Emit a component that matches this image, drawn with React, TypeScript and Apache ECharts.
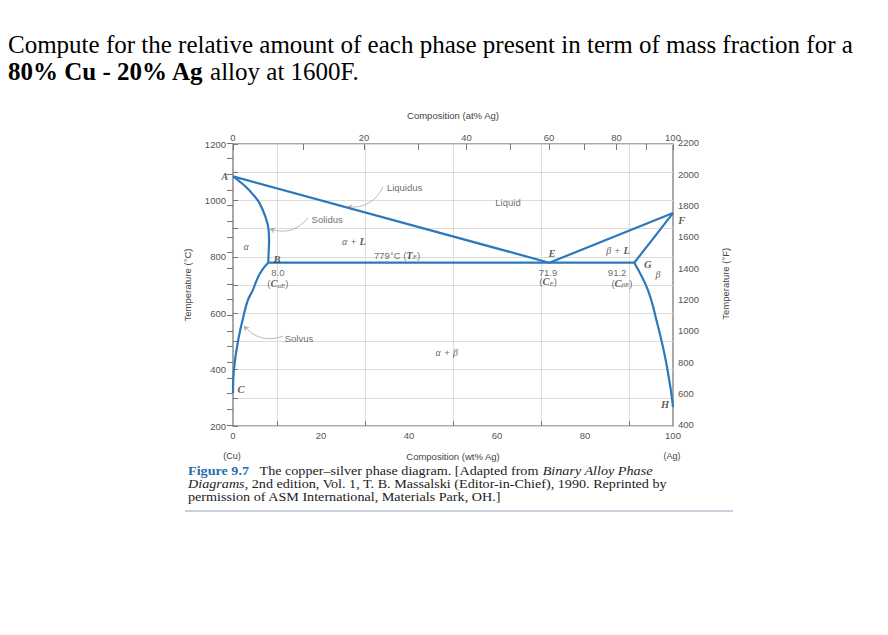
import React, { useEffect, useRef } from "react";
import * as echarts from "echarts";

// ---- data (wt% Ag, °C) ----
const liquidusCurve: number[][] = [[0, 1085], [71.9, 779], [100, 955]];
const alphaSolidus: number[][] = [[0, 1085], [1.6, 1066], [3.2, 1044], [4.7, 1018], [5.9, 994], [7.3, 945], [8.1, 895], [8.2, 855], [8.1, 815], [8.0, 779]];
const alphaSolvus: number[][] = [[8.0, 779], [6.8, 757], [5.7, 728], [4.5, 682], [3.4, 647], [2.5, 597], [1.1, 498], [0.2, 399], [0, 317]];
const eutecticLine: number[][] = [[8.0, 779], [91.2, 779]];
const betaSolidus: number[][] = [[91.2, 779], [100, 955]];
const betaSolvus: number[][] = [[91.2, 779], [94.3, 682], [96.4, 565], [98.2, 445], [99.5, 328], [100, 267]];

// top axis: atomic percent tick labels
const atTicks = [0, 10, 20, 30, 40, 50, 60, 70, 80, 90, 100];
const atLabels = [0, 20, 40, 60, 80, 100];
const bottomMinorTicks = [10, 30, 50, 70, 90];

// annotation texts placed at (wt%, °C)
const annotations: [number, number, string][] = [
  [3.0, 838, "{g|α}"],
  [27.5, 856, "{g|α} {n|+} {i|L}"],
  [37.3, 806, "{n|779°C (}{i|T}{s|E}{n|)}"],
  [10.0, 792, "{i|B}"],
  [10.2, 746, "{n|8.0}"],
  [10.2, 704, "{n|(}{i|C}{s|αE}{n|)}"],
  [62.5, 994, "{n|Liquid}"],
  [72.5, 810, "{i|E}"],
  [71.6, 746, "{n|71.9}"],
  [71.6, 711, "{n|(}{i|C}{s|E}{n|)}"],
  [87.5, 821, "{g|β} {n|+} {i|L}"],
  [94.3, 771, "{i|G}"],
  [96.6, 739, "{g|β}"],
  [87.3, 746, "{n|91.2}"],
  [88.4, 707, "{n|(}{i|C}{s|βE}{n|)}"],
  [102, 930, "{i|F}"],
  [48.6, 459, "{g|α} {n|+} {g|β}"],
  [39.0, 1044, "{n|Liquidus}"],
  [21.4, 934, "{n|Solidus}"],
  [15.0, 512, "{n|Solvus}"],
  [1.8, 331, "{i|C}"],
  [98.2, 278, "{i|H}"],
  [-1.9, 1084, "{i|A}"],
];

const arrows: number[][][] = [
  [[34.1, 1048], [25.9, 977]],
  [[17.0, 938], [8.4, 899]],
  [[11.4, 519], [2.5, 555]],
];

const M_AG = 107.87;
const M_CU = 63.55;
const atToWt = (a: number) => (a * M_AG) / (a * M_AG + (100 - a) * M_CU) * 100;
const wtToAt = (w: number) => (w / M_AG) / (w / M_AG + (100 - w) / M_CU) * 100;

const BLUE = "#2b78bd";
const SANS = "Arial, 'Liberation Sans', sans-serif";
const SERIF = "'Times New Roman', 'Liberation Serif', serif";
const GRID_L = 233, GRID_T = 144, GRID_W = 440, GRID_H = 282;

export default function App() {
  const ref = useRef<HTMLDivElement>(null);
  useEffect(() => {
    if (!ref.current) return;
    const chart = echarts.init(ref.current, undefined, { renderer: "svg" });
    const lineSeries = (data: number[][], smooth: boolean | number = false) => ({
      type: "line",
      xAxisIndex: 0,
      yAxisIndex: 0,
      data,
      smooth,
      symbol: "none",
      lineStyle: { color: BLUE, width: 2.2 },
      silent: true,
      z: 5,
    });
    const rich = {
      n: { fontFamily: SANS, fontSize: 9.5, color: "#444" },
      i: { fontFamily: SERIF, fontSize: 10.5, fontStyle: "italic", fontWeight: "bold", color: "#333" },
      g: { fontFamily: SERIF, fontSize: 10, fontStyle: "italic", color: "#333" },
      s: { fontFamily: SERIF, fontSize: 7, fontStyle: "italic", color: "#333", verticalAlign: "bottom", padding: [4, 0, 0, 0] },
    };
    const axisLabelStyle = { fontFamily: SANS, fontSize: 9.5, color: "#555" };
    const nameStyle = { fontFamily: SANS, fontSize: 9.5, color: "#444" };
    const captionRich = {
      f: { fontFamily: SERIF, fontSize: 13, fontWeight: "bold", fill: "#2a6db0" },
      it: { fontFamily: SERIF, fontSize: 13, fontStyle: "italic", fill: "#222" },
    };
    chart.setOption({
      animation: false,
      grid: [
        { left: GRID_L, top: GRID_T, width: GRID_W, height: GRID_H, show: true, borderColor: "#8c8c8c", borderWidth: 1.5, backgroundColor: "transparent" },
        { left: GRID_L, top: GRID_T - 1.25, width: GRID_W, height: GRID_H, show: false },
      ],
      xAxis: [
        {
          type: "value", gridIndex: 0, position: "bottom", min: 0, max: 100, interval: 10,
          axisLine: { show: false },
          axisTick: { show: true, inside: true, length: 5, customValues: bottomMinorTicks, lineStyle: { color: "#777" } },
          axisLabel: { ...axisLabelStyle, margin: 4, formatter: (v: number) => (v % 20 === 0 ? String(v) : "") },
          splitLine: { show: true, lineStyle: { color: "#dcdcdc", width: 1 } },
          name: "Composition (wt% Ag)", nameLocation: "middle", nameGap: 25, nameTextStyle: nameStyle,
        },
        {
          type: "value", gridIndex: 0, position: "top", min: 0, max: 100,
          axisLine: { show: false },
          axisTick: { show: true, inside: true, length: 6, customValues: atTicks.map(atToWt), lineStyle: { color: "#777" } },
          axisLabel: { ...axisLabelStyle, margin: 2, customValues: atLabels.map(atToWt), formatter: (v: number) => String(Math.round(wtToAt(v))) },
          splitLine: { show: false },
          name: "Composition (at% Ag)", nameLocation: "middle", nameGap: 24, nameTextStyle: nameStyle,
        },
        { type: "value", gridIndex: 1, min: 0, max: 100, show: false },
      ],
      yAxis: [
        {
          type: "value", gridIndex: 0, position: "left", min: 200, max: 1200, interval: 100,
          axisLine: { show: false },
          axisTick: { show: true, inside: true, length: 5, lineStyle: { color: "#777" } },
          axisLabel: { ...axisLabelStyle, margin: 7, formatter: (v: number) => (v % 200 === 0 ? String(v) : "") },
          splitLine: { show: true, lineStyle: { color: "#dcdcdc", width: 1 } },
          name: "Temperature (°C)", nameLocation: "middle", nameGap: 41, nameRotate: 90, nameTextStyle: nameStyle,
        },
        {
          type: "value", gridIndex: 1, position: "right", min: 400, max: 2200, interval: 100,
          axisLine: { show: false },
          axisTick: { show: true, inside: true, length: 6, lineStyle: { color: "#777" } },
          axisLabel: { ...axisLabelStyle, margin: 5, formatter: (v: number) => (v % 200 === 0 ? String(v) : "") },
          splitLine: { show: false },
          name: "Temperature (°F)", nameLocation: "middle", nameGap: 47, nameRotate: 90, nameTextStyle: nameStyle,
        },
      ],
      series: [
        lineSeries(liquidusCurve),
        lineSeries(alphaSolidus, 0.4),
        lineSeries(alphaSolvus, 0.4),
        lineSeries(eutecticLine),
        lineSeries(betaSolidus),
        lineSeries(betaSolvus, 0.4),
        {
          type: "lines",
          coordinateSystem: "cartesian2d",
          xAxisIndex: 0,
          yAxisIndex: 0,
          polyline: false,
          symbol: ["none", "arrow"],
          symbolSize: 5,
          lineStyle: { color: "#777", width: 1, curveness: 0.35 },
          data: arrows.map((c) => ({ coords: c })),
          silent: true,
          z: 6,
        },
        {
          type: "scatter",
          xAxisIndex: 0,
          yAxisIndex: 0,
          symbolSize: 0,
          clip: false,
          silent: true,
          z: 7,
          data: annotations.map(([x, y, t]) => ({ value: [x, y], label: { formatter: t } })),
          label: { show: true, position: "inside", align: "center", verticalAlign: "middle", rich, color: "#444" },
        },
      ],
      graphic: [
        {
          type: "text", x: 8, y: 44,
          style: { text: "Compute for the relative amount of each phase present in term of mass fraction for a", fontFamily: SERIF, fontSize: 25, fill: "#000", verticalAlign: "middle" },
        },
        {
          type: "text", x: 8, y: 71,
          style: {
            text: "{b|80% Cu - 20% Ag} alloy at 1600F.", fontFamily: SERIF, fontSize: 25, fill: "#000", verticalAlign: "middle",
            rich: { b: { fontFamily: SERIF, fontSize: 25, fontWeight: "bold", fill: "#000" } },
          },
        },
        { type: "text", x: 232, y: 456, style: { text: "(Cu)", fontFamily: SANS, fontSize: 9, fill: "#444", align: "center", verticalAlign: "middle" } },
        { type: "text", x: 672, y: 456, style: { text: "(Ag)", fontFamily: SANS, fontSize: 9, fill: "#444", align: "center", verticalAlign: "middle" } },
        {
          type: "text", x: 188, y: 471, scaleX: 1.09,
          style: {
            text: "{f|Figure 9.7}   The copper–silver phase diagram. [Adapted from {it|Binary Alloy Phase}",
            fontFamily: SERIF, fontSize: 13, fill: "#222", verticalAlign: "middle", rich: captionRich,
          },
        },
        {
          type: "text", x: 188, y: 484, scaleX: 1.09,
          style: {
            text: "{it|Diagrams}, 2nd edition, Vol. 1, T. B. Massalski (Editor-in-Chief), 1990. Reprinted by",
            fontFamily: SERIF, fontSize: 13, fill: "#222", verticalAlign: "middle", rich: captionRich,
          },
        },
        {
          type: "text", x: 188, y: 497, scaleX: 1.09,
          style: { text: "permission of ASM International, Materials Park, OH.]", fontFamily: SERIF, fontSize: 13, fill: "#222", verticalAlign: "middle" },
        },
        { type: "line", shape: { x1: 185, y1: 511, x2: 733, y2: 511 }, style: { stroke: "#b4c2d2", lineWidth: 1.5 } },
      ],
    });
    return () => chart.dispose();
  }, []);
  return <div ref={ref} style={{ position: "fixed", left: 0, top: 0, width: 888, height: 635, background: "#fff" }} />;
}
